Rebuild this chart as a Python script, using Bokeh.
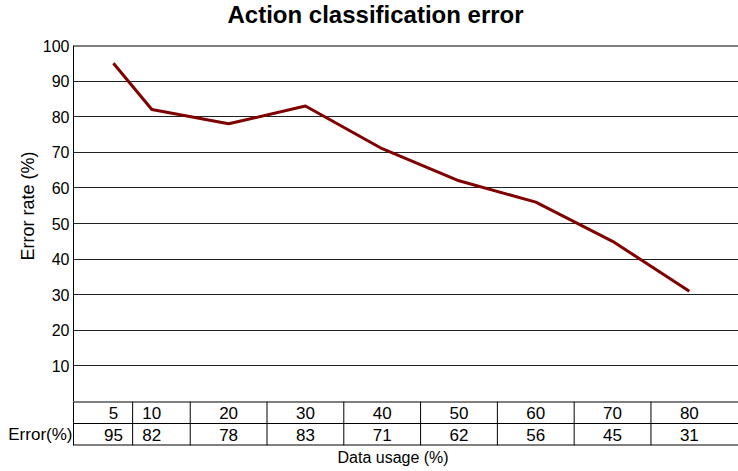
from bokeh.plotting import figure
from bokeh.layouts import column
from bokeh.models import FixedTicker, Span, Title, ColumnDataSource, Range1d
from bokeh.embed import file_html
from bokeh.resources import INLINE
from bokeh.core.properties import value

# ---- data ----
data_usage = [5, 10, 20, 30, 40, 50, 60, 70, 80]
error_rate = [95, 82, 78, 83, 71, 62, 56, 45, 31]
y_ticks = [10, 20, 30, 40, 50, 60, 70, 80, 90, 100]
row_label = "Error(%)"
title_text = "Action classification error"
x_label = "Data usage (%)"
y_label = "Error rate (%)"

FONT = "Liberation Sans"
W = 738
LEFT = 73

xr = Range1d(-0.2, 86.4)

# ---- heading strip (holds the chart title) ----
h = figure(width=W, height=35, x_range=xr, y_range=Range1d(0, 1),
           output_backend="svg", toolbar_location=None,
           x_axis_location=None, y_axis_location=None,
           min_border_left=0, min_border_right=0, min_border_top=0, min_border_bottom=0)
h.outline_line_color = None
h.xgrid.visible = False
h.ygrid.visible = False
h.title.text = title_text
h.title.text_font = FONT
h.title.text_font_size = "24px"
h.title.text_font_style = "bold"
h.title.text_color = "black"
h.title.align = "left"
h.title.offset = 154
h.title.vertical_align = "top"
h.title.standoff = 0

# ---- main plot ----
p = figure(width=W, height=366, x_range=xr, y_range=Range1d(0, 100),
           output_backend="svg", toolbar_location=None, x_axis_location=None,
           min_border_left=LEFT, min_border_right=0, min_border_bottom=0,
           min_border_top=10)
p.outline_line_color = None
p.background_fill_color = "white"
p.border_fill_color = "white"
p.xgrid.visible = False
p.ygrid.ticker = FixedTicker(ticks=y_ticks[:-1])
p.ygrid.grid_line_color = "#222222"
p.ygrid.grid_line_width = 1
p.yaxis.ticker = FixedTicker(ticks=y_ticks)
p.yaxis.major_tick_in = 0
p.yaxis.major_tick_out = 0
p.yaxis.minor_tick_line_color = None
p.yaxis.axis_line_color = "black"
p.yaxis.axis_line_width = 1
p.yaxis.major_label_standoff = 4
p.yaxis.major_label_text_font = FONT
p.yaxis.major_label_text_font_size = "16px"
p.yaxis.major_label_text_color = "black"

# y-axis title, placed a little above the frame centre as in the reference
ytitle = Title(text=y_label, align="left", offset=141, text_font=FONT, text_font_size="18px",
               text_font_style="normal", text_color="black", standoff=4)
p.add_layout(ytitle, "left")

p.add_layout(Span(location=y_ticks[-1], dimension="width", line_color="black", line_width=2))

src = ColumnDataSource(dict(x=data_usage, y=error_rate))
p.line("x", "y", source=src, line_color="#800000", line_width=3)

# ---- table below ----
t = figure(width=W, height=70, x_range=xr, y_range=Range1d(0, 2),
           output_backend="svg", toolbar_location=None,
           min_border_left=LEFT, min_border_right=0, min_border_top=0,
           min_border_bottom=26)
t.outline_line_color = None
t.xgrid.visible = False
t.ygrid.visible = False
t.xaxis.visible = False
t.yaxis.ticker = FixedTicker(ticks=[0.5])
t.yaxis.major_label_overrides = {0.5: row_label}
t.yaxis.major_tick_in = 0
t.yaxis.major_tick_out = 0
t.yaxis.minor_tick_line_color = None
t.yaxis.axis_line_color = "black"
t.yaxis.major_label_standoff = 1
t.yaxis.major_label_text_font = FONT
t.yaxis.major_label_text_font_size = "17px"
t.yaxis.major_label_text_color = "black"

for loc, lw in [(2, 2), (1, 1), (0, 2)]:
    t.add_layout(Span(location=loc, dimension="width", line_color="black", line_width=lw))

mids = [(a + b) / 2 for a, b in zip(data_usage[:-1], data_usage[1:])]
t.segment(x0=mids, y0=[0] * len(mids), x1=mids, y1=[2] * len(mids),
          line_color="black", line_width=1)

hdr = ColumnDataSource(dict(x=data_usage, y=[1.5] * len(data_usage), s=[str(v) for v in data_usage]))
val = ColumnDataSource(dict(x=data_usage, y=[0.5] * len(data_usage), s=[str(v) for v in error_rate]))
for s in (hdr, val):
    t.text("x", "y", text="s", source=s, text_align="center", text_baseline="middle",
           text_font=value(FONT), text_font_size="17px", text_color="black")

xt = Title(text=x_label, align="left", offset=264, text_font=FONT, text_font_size="16px",
           text_font_style="normal", text_color="black", standoff=3)
t.add_layout(xt, "below")

layout = column(h, p, t, spacing=0)
open("out.html", "w").write(file_html(layout, INLINE))
